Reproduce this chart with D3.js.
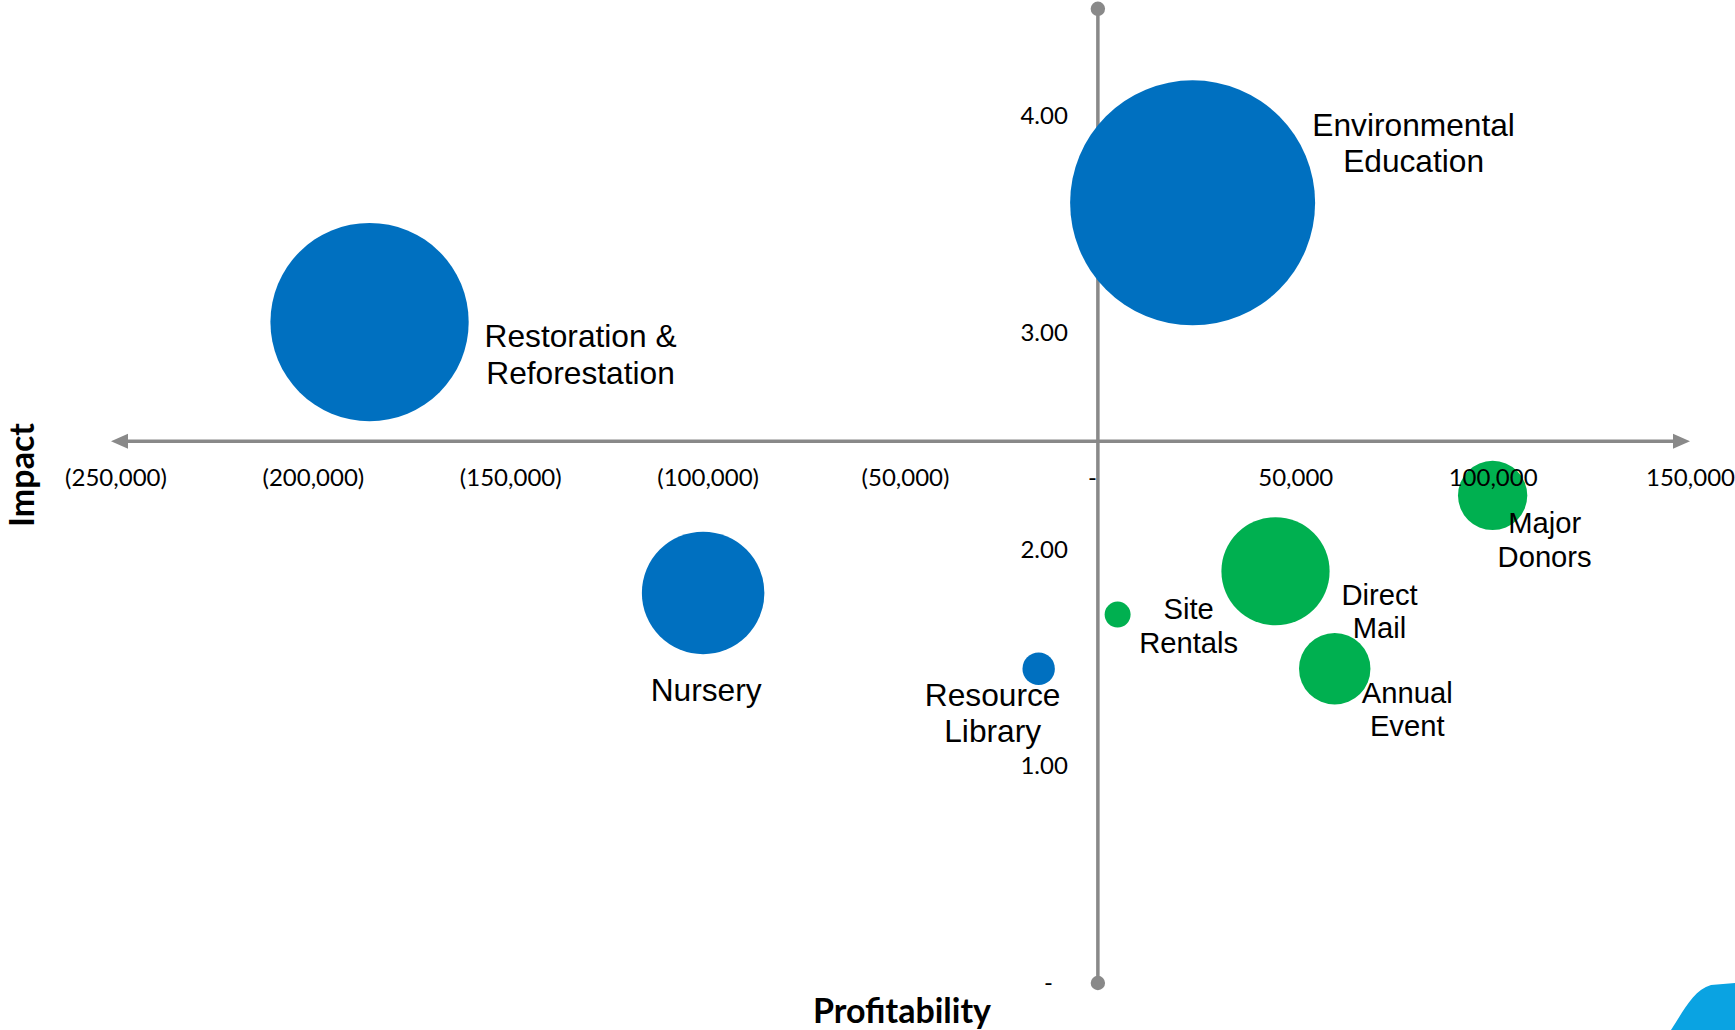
<!DOCTYPE html>
<html>
<head>
<meta charset="utf-8">
<title>Profitability vs. Impact</title>
<script src="https://cdn.jsdelivr.net/npm/d3@7"></script>
<style>
  html, body { margin: 0; padding: 0; background: #ffffff; }
  svg { display: block; }
</style>
</head>
<body>
<svg id="chart" width="1735" height="1030"></svg>
<script>
// ---- Data -------------------------------------------------------------
const programs = [
  "Environmental Education", "Restoration & Reforestation", "Nursery",
  "Resource Library", "Site Rentals", "Direct Mail", "Annual Event", "Major Donors"
];
const labelLines = [
  ["Environmental", "Education"], ["Restoration &", "Reforestation"], ["Nursery"],
  ["Resource", "Library"], ["Site", "Rentals"], ["Direct", "Mail"],
  ["Annual", "Event"], ["Major", "Donors"]
];
// net profitability ($)
const profitability = [24000, -184500, -100000, -15000, 5000, 45000, 60000, 100000];
// mission impact score
const impact = [3.6, 3.05, 1.8, 1.45, 1.7, 1.9, 1.45, 2.25];
// budget size ($ thousands) – drives bubble area
const budget = [400, 262, 100, 7, 4.5, 78, 34, 32];
// activity type
const activityType = ["Program", "Program", "Program", "Program",
                      "Revenue", "Revenue", "Revenue", "Revenue"];

const xTicks = [-250000, -200000, -150000, -100000, -50000, 0, 50000, 100000, 150000];
const yTicks = [0, 1, 2, 3, 4];

// ---- Layout / styling ------------------------------------------------
const W = 1735, H = 1030;
const axisColor = "#898989";
const typeStyle = {
  Program: { fill: "#0070C0", fontSize: 31.7, lineHeight: 36.5 },
  Revenue: { fill: "#00B050", fontSize: 29.2, lineHeight: 33.5 }
};
// where each label sits relative to its bubble centre (px, first baseline)
const labelOffset = {
  "Environmental Education":     [221, -67],
  "Restoration & Reforestation": [211, 25],
  "Nursery":                     [3, 108],
  "Resource Library":            [-46, 37],
  "Site Rentals":                [71, 4.5],
  "Direct Mail":                 [104, 33.5],
  "Annual Event":                [72.5, 34],
  "Major Donors":                [52, 38]
};

const rows = programs.map((name, i) => ({
  name, lines: labelLines[i], x: profitability[i], y: impact[i],
  size: budget[i], type: activityType[i]
}));

const svg = d3.select("#chart");
svg.append("rect").attr("width", W).attr("height", H).attr("fill", "#ffffff");

const x = d3.scaleLinear().domain([-250000, 150000]).range([111, 1690]);
const y = d3.scaleLinear().domain([0, 4.5]).range([983, 7.8]);
const r = d3.scaleSqrt().domain([0, 400]).range([0, 122.5]);

const crossY = y(2.5);   // horizontal axis crosses at impact 2.5
const crossX = x(0);     // vertical axis crosses at zero profit

// ---- Axis lines --------------------------------------------------------
const axes = svg.append("g");
const arrowLen = 17, arrowHalf = 7.5;
const [xMin, xMax] = x.range();
axes.append("line")
  .attr("x1", xMin + arrowLen - 2).attr("x2", xMax - arrowLen + 2)
  .attr("y1", crossY).attr("y2", crossY)
  .attr("stroke", axisColor).attr("stroke-width", 3.5);
axes.append("path")
  .attr("d", `M${xMin},${crossY} L${xMin + arrowLen},${crossY - arrowHalf} L${xMin + arrowLen},${crossY + arrowHalf} Z`)
  .attr("fill", axisColor);
axes.append("path")
  .attr("d", `M${xMax},${crossY} L${xMax - arrowLen},${crossY - arrowHalf} L${xMax - arrowLen},${crossY + arrowHalf} Z`)
  .attr("fill", axisColor);

const [yBottom, yTop] = y.range();
axes.append("line")
  .attr("x1", crossX).attr("x2", crossX)
  .attr("y1", yTop + 1).attr("y2", yBottom)
  .attr("stroke", axisColor).attr("stroke-width", 3.5);
axes.selectAll("circle.end").data([yTop + 1, yBottom]).join("circle")
  .attr("class", "end")
  .attr("cx", crossX).attr("cy", d => d).attr("r", 7.2)
  .attr("fill", axisColor);

// ---- Bubbles -----------------------------------------------------------
svg.append("g").selectAll("circle").data(rows).join("circle")
  .attr("cx", d => x(d.x))
  .attr("cy", d => y(d.y))
  .attr("r", d => r(d.size))
  .attr("fill", d => typeStyle[d.type].fill);

// ---- Tick labels (accounting style) -------------------------------------
const num = d3.format(",");
const xFmt = d => d === 0 ? "-" : d < 0 ? `(${num(-d)})` : num(d);
const yFmt = d => d === 0 ? "-" : d3.format(".2f")(d);

const xAxis = svg.append("g")
  .attr("transform", `translate(0,${crossY})`)
  .call(d3.axisBottom(x).tickValues(xTicks).tickSize(0).tickPadding(27.5).tickFormat(xFmt));
xAxis.select(".domain").remove();
xAxis.selectAll("text")
  .attr("font-family", "Lato, 'Open Sans', sans-serif")
  .attr("font-size", 24).attr("fill", "#000")
  .attr("dx", d => d === 0 ? -6 : d < 0 ? 4.5 : 0);

const yAxis = svg.append("g")
  .attr("transform", `translate(${crossX},0)`)
  .call(d3.axisLeft(y).tickValues(yTicks).tickSize(0).tickPadding(30).tickFormat(yFmt));
yAxis.select(".domain").remove();
yAxis.selectAll("text")
  .attr("font-family", "Lato, 'Open Sans', sans-serif")
  .attr("font-size", 24).attr("fill", "#000")
  .attr("dx", d => d === 0 ? -15 : 0);

// ---- Bubble labels -----------------------------------------------------
const labels = svg.append("g").selectAll("text").data(rows).join("text")
  .attr("font-family", "'Liberation Sans', Arial, sans-serif")
  .attr("font-size", d => typeStyle[d.type].fontSize)
  .attr("fill", "#000")
  .attr("text-anchor", "middle")
  .attr("x", d => x(d.x) + labelOffset[d.name][0])
  .attr("y", d => y(d.y) + labelOffset[d.name][1]);
labels.selectAll("tspan").data(d => d.lines.map((t, k) => ({ t, k, d }))).join("tspan")
  .attr("x", o => x(o.d.x) + labelOffset[o.d.name][0])
  .attr("dy", o => o.k === 0 ? 0 : typeStyle[o.d.type].lineHeight)
  .text(o => o.t);

// ---- Axis titles -------------------------------------------------------
svg.append("text")
  .attr("transform", `translate(34,475) rotate(-90)`)
  .attr("text-anchor", "middle")
  .attr("font-family", "Lato, 'Open Sans', sans-serif")
  .attr("font-weight", 700).attr("font-size", 34).attr("fill", "#000")
  .text("Impact");
svg.append("text")
  .attr("x", 902).attr("y", 1023)
  .attr("text-anchor", "middle")
  .attr("font-family", "Lato, 'Open Sans', sans-serif")
  .attr("font-weight", 700).attr("font-size", 34).attr("fill", "#000")
  .text("Profitability");

// ---- Corner accent -----------------------------------------------------
svg.append("path")
  .attr("d", `M${W - 64},${H} C${W - 52},${H - 18} ${W - 42},${H - 40} ${W - 24},${H - 45} L${W},${H - 47} L${W},${H} Z`)
  .attr("fill", "#0AA3E2");
</script>
</body>
</html>
